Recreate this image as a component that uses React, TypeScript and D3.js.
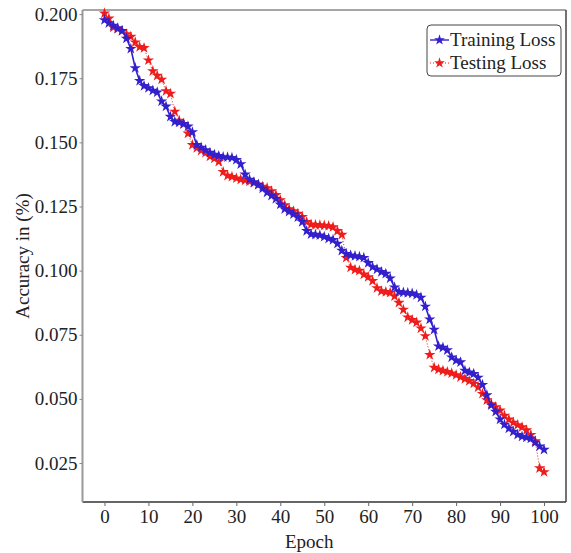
import React, { useRef, useEffect } from "react";
import * as d3 from "d3";

// epochs 0..100
const epochs = d3.range(0, 101);

const trainingLoss = [
  0.1977, 0.1965, 0.1955, 0.1945, 0.1935, 0.1905, 0.1865, 0.179, 0.174, 0.172,
  0.1712, 0.1702, 0.1695, 0.166, 0.164, 0.16, 0.158, 0.1578, 0.1572, 0.1562,
  0.154, 0.149, 0.148, 0.147, 0.146, 0.1452, 0.1447, 0.1443, 0.1442, 0.144,
  0.1432, 0.1415, 0.1375, 0.1355, 0.1345, 0.1335, 0.132, 0.1305, 0.1292, 0.128,
  0.1258, 0.124, 0.123, 0.122, 0.1208, 0.119, 0.1155, 0.1142, 0.114, 0.1138,
  0.1132, 0.1125, 0.112, 0.1105, 0.1078, 0.1065, 0.106, 0.1057, 0.1054, 0.105,
  0.103, 0.1014, 0.1005, 0.0995, 0.0988, 0.097, 0.0935, 0.0917, 0.0915, 0.0913,
  0.0911, 0.0905, 0.0895, 0.086, 0.081, 0.077, 0.0705, 0.07, 0.069, 0.0662,
  0.065, 0.0643, 0.061, 0.0603, 0.0598, 0.0583, 0.0555, 0.0515, 0.0475, 0.045,
  0.042, 0.04, 0.0385, 0.0372, 0.036, 0.0353, 0.035, 0.0346, 0.033, 0.0315,
  0.0302,
];

const testingLoss = [
  0.2003, 0.1983, 0.1948, 0.1942, 0.1934, 0.1922, 0.1912, 0.189, 0.1872, 0.1868,
  0.182, 0.1778, 0.176, 0.1745, 0.17, 0.169, 0.162, 0.1585, 0.1572, 0.1535,
  0.149, 0.1478, 0.1468, 0.146, 0.1445, 0.1437, 0.1425, 0.1385, 0.137, 0.1366,
  0.136, 0.1355, 0.1352, 0.1348, 0.1342, 0.1335, 0.1328, 0.1322, 0.131, 0.1295,
  0.1275, 0.1255, 0.124, 0.1232, 0.1222, 0.121, 0.119, 0.118, 0.1178, 0.1177,
  0.1176, 0.1174, 0.117, 0.1155, 0.114, 0.105, 0.1012, 0.1004, 0.1, 0.0985,
  0.0975, 0.096, 0.0932, 0.092, 0.0917, 0.0914, 0.09, 0.0875, 0.0848, 0.0818,
  0.0808, 0.0798, 0.0775, 0.0745, 0.0672, 0.0622, 0.0615, 0.061, 0.0605, 0.06,
  0.0593, 0.0585, 0.0578, 0.057, 0.056, 0.0545, 0.052, 0.0495, 0.048, 0.0468,
  0.0455, 0.0435, 0.042, 0.0408, 0.0398, 0.039, 0.0378, 0.036, 0.0335, 0.023,
  0.0215,
];

const xTicks = [0, 10, 20, 30, 40, 50, 60, 70, 80, 90, 100];
const yTicks = [0.025, 0.05, 0.075, 0.1, 0.125, 0.15, 0.175, 0.2];

const seriesNames = ["Training Loss", "Testing Loss"];

const W = 571;
const H = 553;
const FONT = "'Liberation Serif', 'Times New Roman', serif";
const BLUE = "#3320cc";
const RED = "#f01c1c";

export default function App() {
  const svgRef = useRef<SVGSVGElement>(null);

  useEffect(() => {
    const svg = d3.select(svgRef.current);
    svg.selectAll("*").remove();

    const left = 82.5, right = 566, top = 10, bottom = 502;

    const x = d3.scaleLinear().domain([-5, 105]).range([left, right]);
    const y = d3.scaleLinear().domain([0.0098, 0.2016]).range([bottom, top]);

    // frame
    svg.append("line").attr("x1", left).attr("x2", right).attr("y1", top).attr("y2", top)
      .attr("stroke", "#888").attr("stroke-width", 1.5);
    svg.append("line").attr("x1", right).attr("x2", right).attr("y1", top).attr("y2", bottom)
      .attr("stroke", "#444").attr("stroke-width", 1.5);

    // x axis
    const xAxis = d3.axisBottom(x).tickValues(xTicks).tickSize(4).tickFormat(d3.format("d"));
    const gx = svg.append("g").attr("transform", `translate(0,${bottom})`).call(xAxis);
    gx.select(".domain").attr("stroke", "#333").attr("stroke-width", 1.5)
      .attr("d", `M${left},0H${right}`);
    gx.selectAll(".tick line").attr("stroke", "#666");
    gx.selectAll(".tick text").attr("font-family", FONT).attr("font-size", 19)
      .attr("fill", "#222").attr("dy", "0.74em");

    // y axis
    const yAxis = d3.axisLeft(y).tickValues(yTicks).tickSize(3).tickFormat(d3.format(".3f"));
    const gy = svg.append("g").attr("transform", `translate(${left},0)`).call(yAxis);
    gy.select(".domain").attr("stroke", "#999").attr("stroke-width", 2)
      .attr("d", `M0,${top}V${bottom}`);
    gy.selectAll(".tick line").attr("stroke", "#888");
    gy.selectAll(".tick text").attr("font-family", FONT).attr("font-size", 19)
      .attr("fill", "#222").attr("x", -5);

    // axis titles
    svg.append("text").attr("x", (left + right) / 2 - 15).attr("y", 548)
      .attr("text-anchor", "middle").attr("font-family", FONT).attr("font-size", 19)
      .attr("fill", "#222").text("Epoch");
    svg.append("text").attr("transform", `translate(29,${(top + bottom) / 2}) rotate(-90)`)
      .attr("text-anchor", "middle").attr("font-family", FONT).attr("font-size", 19)
      .attr("fill", "#222").text("Accuracy in (%)");

    const star = d3.symbol().type(d3.symbolStar).size(40);

    const lineGen = d3.line<number>()
      .x((d, i) => x(epochs[i]))
      .y(d => y(d));

    // testing (red, dotted)
    svg.append("path").datum(testingLoss).attr("d", lineGen)
      .attr("fill", "none").attr("stroke", RED).attr("stroke-width", 1)
      .attr("stroke-dasharray", "1,2");
    svg.append("g").selectAll("path").data(testingLoss).join("path")
      .attr("d", star)
      .attr("transform", (d, i) => `translate(${x(epochs[i])},${y(d)})`)
      .attr("fill", RED);

    // training (blue, solid)
    svg.append("path").datum(trainingLoss).attr("d", lineGen)
      .attr("fill", "none").attr("stroke", BLUE).attr("stroke-width", 1.6);
    svg.append("g").selectAll("path").data(trainingLoss).join("path")
      .attr("d", star)
      .attr("transform", (d, i) => `translate(${x(epochs[i])},${y(d)})`)
      .attr("fill", BLUE);

    // legend
    const lg = svg.append("g");
    lg.append("rect").attr("x", 427).attr("y", 25).attr("width", 134).attr("height", 51)
      .attr("rx", 4).attr("fill", "white").attr("stroke", "#444").attr("stroke-width", 1);
    const colors = [BLUE, RED];
    seriesNames.forEach((name, i) => {
      const cy = 40 + i * 23;
      lg.append("line").attr("x1", 430).attr("x2", 449).attr("y1", cy).attr("y2", cy)
        .attr("stroke", colors[i]).attr("stroke-width", i === 0 ? 1.4 : 1)
        .attr("stroke-dasharray", i === 0 ? null : "1,2");
      lg.append("path").attr("d", d3.symbol().type(d3.symbolStar).size(36)())
        .attr("transform", `translate(439.5,${cy})`).attr("fill", colors[i]);
      lg.append("text").attr("x", 450).attr("y", cy).attr("dy", "0.34em")
        .attr("font-family", FONT).attr("font-size", 19).attr("fill", "#222").text(name);
    });
  }, []);

  return (
    <svg ref={svgRef} width={W} height={H}
      style={{ position: "absolute", left: 0, top: 0, background: "white" }} />
  );
}
